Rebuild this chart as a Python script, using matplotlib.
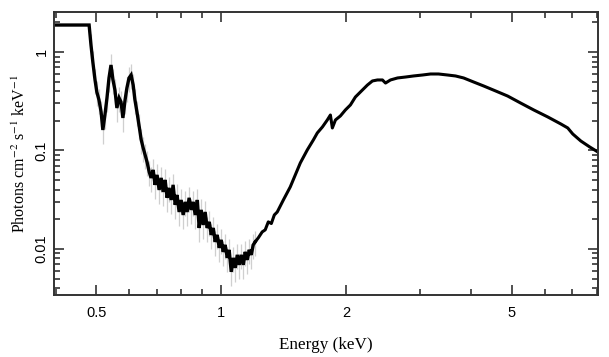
import numpy as np
import matplotlib
matplotlib.use('Agg')
import matplotlib.pyplot as plt
from matplotlib.ticker import LogLocator, FixedLocator, FixedFormatter, NullFormatter

# 能谱数据 (keV, photons cm^-2 s^-1 keV^-1)
energy = [
    0.396, 0.481, 0.486, 0.491, 0.497, 0.502, 0.508, 0.514, 0.519, 0.525, 0.531,
    0.537, 0.543, 0.549, 0.555, 0.561, 0.568, 0.574, 0.580, 0.587, 0.593, 0.600,
    0.607, 0.614, 0.620, 0.627, 0.634, 0.642, 0.649, 0.656, 0.663, 0.671, 0.678,
    0.686, 0.693, 0.701, 0.709, 0.717, 0.725, 0.733, 0.741, 0.749, 0.758, 0.766,
    0.775, 0.783, 0.792, 0.801, 0.810, 0.819, 0.828, 0.837, 0.847, 0.856, 0.866,
    0.876, 0.885, 0.895, 0.905, 0.915, 0.925, 0.936, 0.946, 0.957, 0.967, 0.978,
    0.989, 1.000, 1.011, 1.022, 1.034, 1.045, 1.057, 1.069, 1.081, 1.093, 1.105,
    1.117, 1.130, 1.142, 1.155, 1.168, 1.181, 1.194, 1.207,
    1.228, 1.255, 1.276, 1.298, 1.320, 1.342, 1.364, 1.411, 1.466, 1.550, 1.611,
    1.666, 1.703, 1.752, 1.800, 1.831, 1.851, 1.883, 1.935, 1.990, 2.046, 2.103,
    2.163, 2.248, 2.311, 2.376, 2.443, 2.485, 2.554, 2.656, 2.776, 2.902, 3.050,
    3.189, 3.333, 3.504, 3.663, 3.830, 4.048, 4.279, 4.574, 4.889, 5.254, 5.647,
    6.104, 6.560, 6.820, 7.012, 7.331, 7.703, 8.054,
]
flux = [
    1.880, 1.880, 1.178, 0.792, 0.520, 0.393, 0.326, 0.246, 0.1615, 0.229, 0.341,
    0.545, 0.738, 0.520, 0.411, 0.270, 0.341, 0.311, 0.214, 0.326, 0.431, 0.545,
    0.584, 0.462, 0.326, 0.246, 0.1815, 0.1278, 0.1060, 0.0900, 0.0764, 0.0605, 0.0526,
    0.0634, 0.0447, 0.0564, 0.0397, 0.0526, 0.0379, 0.0502, 0.0330, 0.0416, 0.0314, 0.0447,
    0.0280, 0.0353, 0.0237, 0.0314, 0.0221, 0.0300, 0.0237, 0.0330, 0.0249, 0.0300, 0.0221,
    0.0314, 0.0163, 0.0249, 0.0175, 0.0237, 0.0163, 0.0188, 0.01387, 0.0163, 0.01178, 0.01387,
    0.01024, 0.01234, 0.00932, 0.01098, 0.00810, 0.00977, 0.00584, 0.00810, 0.00641, 0.00869, 0.00688,
    0.00869, 0.00688, 0.00932, 0.00773, 0.00977, 0.00869, 0.01098, 0.01178,
    0.01294, 0.01488, 0.0156, 0.0188, 0.0181, 0.0221, 0.0237, 0.0314, 0.0426, 0.0747, 0.1012,
    0.1278, 0.1506, 0.1733, 0.204, 0.229, 0.1692, 0.204, 0.224, 0.258, 0.290, 0.349,
    0.393, 0.462, 0.508, 0.520, 0.520, 0.484, 0.520, 0.545, 0.557, 0.571, 0.584,
    0.598, 0.598, 0.584, 0.571, 0.545, 0.496, 0.452, 0.402, 0.357, 0.303, 0.258,
    0.219, 0.186, 0.1692, 0.147, 0.1248, 0.1085, 0.0966,
]
# 相对误差: 低能段噪声大, 高能段小
n_noisy = 85
rel_err_noisy = 0.28
rel_err_smooth = 0.03

energy = np.array(energy)
flux = np.array(flux)
rel_err = np.where(np.arange(len(flux)) < n_noisy, rel_err_noisy, rel_err_smooth)
yerr = flux * rel_err

plt.rcParams['mathtext.fontset'] = 'stix'
fig = plt.figure(figsize=(6.09, 3.57), dpi=100)
ax = fig.add_axes([0.0887, 0.1737, 0.8927, 0.7927])

ax.errorbar(energy[2:n_noisy], flux[2:n_noisy], yerr=yerr[2:n_noisy], fmt='none',
            ecolor='#cfcfcf', elinewidth=0.9, zorder=1)
ax.plot(energy[:n_noisy], flux[:n_noisy], color='black', lw=2.4, zorder=2, solid_joinstyle='miter')
ax.plot(energy[n_noisy - 1:], flux[n_noisy - 1:], color='black', lw=2.2, zorder=2)

ax.set_xscale('log')
ax.set_yscale('log')
ax.set_xlim(0.396, 8.05)
ax.set_ylim(0.0034, 2.55)

ax.xaxis.set_major_locator(FixedLocator([0.5, 1, 2, 5]))
ax.xaxis.set_major_formatter(FixedFormatter(['0.5', '1', '2', '5']))
ax.xaxis.set_minor_locator(FixedLocator([0.4, 0.6, 0.7, 0.8, 0.9, 3, 4, 6, 7, 8]))
ax.xaxis.set_minor_formatter(NullFormatter())
ax.yaxis.set_major_locator(FixedLocator([0.01, 0.1, 1]))
ax.yaxis.set_major_formatter(FixedFormatter(['0.01', '0.1', '1']))
ax.yaxis.set_minor_locator(LogLocator(base=10, subs=np.arange(2, 10)))
ax.yaxis.set_minor_formatter(NullFormatter())

for s in ax.spines.values():
    s.set_linewidth(1.4)
    s.set_color('#333333')
ax.tick_params(which='both', direction='in', top=True, right=True, color='#333333', width=1.2)
ax.tick_params(which='major', length=7, labelsize=10.5)
ax.tick_params(axis='x', which='major', pad=8)
ax.tick_params(axis='y', which='major', pad=4)
ax.tick_params(which='minor', length=4)
for lab in ax.get_xticklabels() + ax.get_yticklabels():
    lab.set_family('Liberation Sans')
for lab in ax.get_yticklabels():
    lab.set_rotation(90)
    lab.set_va('center')

ax.set_xlabel('Energy (keV)', family='Liberation Serif', fontsize=12.3, labelpad=12)
ax.set_ylabel(r'Photons cm$^{-2}$ s$^{-1}$ keV$^{-1}$', family='Liberation Serif', fontsize=11.5, labelpad=4)

plt.savefig('out.png', dpi=100)
